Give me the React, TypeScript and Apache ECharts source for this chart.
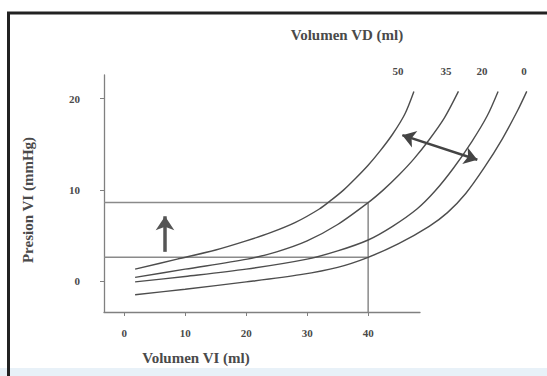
import React, { useEffect, useRef } from "react";
import * as echarts from "echarts";

// Volumen VI (ml) vs Presion VI (mmHg), one curve per Volumen VD (ml)
const vdLabels = ["50", "35", "20", "0"];
const curve50: number[][] = [
  [1.8, 1.3], [8.7, 2.4], [15, 3.4], [20, 4.4], [24, 5.3], [28, 6.4],
  [32, 7.9], [34, 8.9], [36, 10.0], [38, 11.3], [40, 12.7], [42, 14.3],
  [44, 16.1], [46, 18.3], [47.5, 20.8],
];
const curve35: number[][] = [
  [1.8, 0.4], [10, 1.3], [20.2, 2.4], [25, 3.2], [30, 4.4], [35, 6.2],
  [40, 8.6], [42.5, 10.0], [45, 11.6], [47.5, 13.4], [50, 15.5], [52.5, 17.9], [54.8, 20.8],
];
const curve20: number[][] = [
  [1.8, -0.1], [10, 0.5], [20, 1.3], [30, 2.4], [35, 3.3], [40, 4.5],
  [44, 6.0], [48, 7.9], [51, 9.9], [54, 12.4], [57, 15.3], [59.5, 18.1], [61.3, 20.8],
];
const curve0: number[][] = [
  [1.8, -1.5], [10, -0.9], [20, -0.1], [28.9, 0.7], [35, 1.5], [40, 2.6],
  [45, 4.1], [50, 6.0], [53, 7.5], [56, 9.6], [59, 12.4], [62, 15.6], [64.5, 18.7], [66, 20.8],
];
const curves = [curve50, curve35, curve20, curve0];

const xTicks = [0, 10, 20, 30, 40];
const yTicks = [0, 10, 20];
const xMin = -3.3;
const xMax = 48.5;
const xMaxWide = 68; // hidden axis, same scale, so curves can run past the drawn axis
const yMin = -3.4;
const yMax = 22.6;

// reference box: upper pressure, lower pressure, volume
const boxUpper = 8.6;
const boxLower = 2.6;
const boxVolume = 40;

const upArrow: number[][] = [[6.7, 3.2], [6.7, 7.1]];
const doubleArrow: number[][] = [[45.6, 16.0], [57.9, 13.3]];

const FONT = "'Liberation Serif', 'DejaVu Serif', serif";
const TXT = "#4a4a4a";

const W = 547;
const GRID_LEFT = 104;
const GRID_WIDTH = 316;

export default function App() {
  const ref = useRef<HTMLDivElement>(null);
  useEffect(() => {
    if (!ref.current) return;
    const chart = echarts.init(ref.current, undefined, { renderer: "svg" });
    const pxPerUnit = GRID_WIDTH / (xMax - xMin);
    const wideWidth = (xMaxWide - xMin) * pxPerUnit;
    const wideRight = W - GRID_LEFT - wideWidth;

    const curveSeries = curves.map((c, i) => ({
      type: "line",
      name: vdLabels[i],
      data: c,
      xAxisIndex: 1,
      yAxisIndex: 1,
      smooth: 0.3,
      showSymbol: false,
      clip: false,
      lineStyle: { color: "#4d4d4d", width: 1.4 },
      z: 3,
    }));
    const hiddenAxis = {
      show: false,
      splitLine: { show: false },
    };
    chart.setOption({
      animation: false,
      backgroundColor: "#ffffff",
      grid: [
        { left: GRID_LEFT, right: W - GRID_LEFT - GRID_WIDTH, top: 75, bottom: 64 },
        { left: GRID_LEFT, right: wideRight, top: 75, bottom: 64 },
      ],
      xAxis: [
        {
          type: "value",
          gridIndex: 0,
          min: xMin,
          max: xMax,
          splitLine: { show: false },
          axisLine: { show: true, onZero: false, lineStyle: { color: "#808080", width: 1.3 } },
          axisTick: { show: true, length: 4, customValues: xTicks, lineStyle: { color: "#808080" } },
          axisLabel: {
            customValues: xTicks,
            margin: 15,
            color: TXT,
            fontFamily: FONT,
            fontWeight: "bold",
            fontSize: 11,
          },
        },
        { type: "value", gridIndex: 1, min: xMin, max: xMaxWide, ...hiddenAxis },
      ],
      yAxis: [
        {
          type: "value",
          gridIndex: 0,
          min: yMin,
          max: yMax,
          splitLine: { show: false },
          axisLine: { show: true, onZero: false, lineStyle: { color: "#808080", width: 1.3 } },
          axisTick: { show: true, length: 4, customValues: yTicks, lineStyle: { color: "#808080" } },
          axisLabel: {
            customValues: yTicks,
            margin: 24,
            color: TXT,
            fontFamily: FONT,
            fontWeight: "bold",
            fontSize: 11,
          },
        },
        { type: "value", gridIndex: 1, min: yMin, max: yMax, ...hiddenAxis },
      ],
      series: [
        ...curveSeries,
        {
          type: "line",
          data: [[xMin, boxUpper], [boxVolume, boxUpper], [boxVolume, yMin]],
          showSymbol: false,
          lineStyle: { color: "#8a8a8a", width: 1.5 },
          z: 2,
        },
        {
          type: "line",
          data: [[xMin, boxLower], [boxVolume, boxLower]],
          showSymbol: false,
          lineStyle: { color: "#8a8a8a", width: 1.5 },
          z: 2,
        },
        {
          type: "lines",
          coordinateSystem: "cartesian2d",
          xAxisIndex: 1,
          yAxisIndex: 1,
          clip: false,
          symbol: ["none", "arrow"],
          symbolSize: 14,
          lineStyle: { color: "#555555", width: 3.5, opacity: 1, curveness: 0 },
          data: [{ coords: upArrow }],
          z: 4,
        },
        {
          type: "lines",
          coordinateSystem: "cartesian2d",
          xAxisIndex: 1,
          yAxisIndex: 1,
          clip: false,
          symbol: ["arrow", "arrow"],
          symbolSize: 13,
          lineStyle: { color: "#444444", width: 2.5, opacity: 1, curveness: 0 },
          data: [{ coords: doubleArrow }],
          z: 4,
        },
      ],
      graphic: [
        { type: "rect", shape: { x: 0, y: 368, width: 547, height: 8 }, style: { fill: "#e8f1f8" }, silent: true },
        { type: "line", shape: { x1: 7, y1: 13, x2: 547, y2: 13 }, style: { stroke: "#222222", lineWidth: 3 } },
        { type: "line", shape: { x1: 8.5, y1: 12, x2: 8.5, y2: 376 }, style: { stroke: "#222222", lineWidth: 3 } },
        {
          type: "text", x: 347, y: 35,
          style: { text: "Volumen VD (ml)", fill: TXT, font: `bold 15px ${FONT}`, align: "center", verticalAlign: "middle" },
        },
        {
          type: "text", x: 196, y: 358,
          style: { text: "Volumen VI (ml)", fill: TXT, font: `bold 15px ${FONT}`, align: "center", verticalAlign: "middle" },
        },
        {
          type: "text", x: 28, y: 200, rotation: Math.PI / 2,
          style: { text: "Presion VI (mmHg)", fill: TXT, font: `bold 15px ${FONT}`, align: "center", verticalAlign: "middle" },
        },
        ...vdLabels.map((t, i) => ({
          type: "text",
          x: [398, 446, 482, 524][i],
          y: 71,
          style: { text: t, fill: TXT, font: `bold 11px ${FONT}`, align: "center", verticalAlign: "middle" },
        })),
      ],
    });
    return () => chart.dispose();
  }, []);
  return (
    <div
      ref={ref}
      style={{ position: "fixed", left: 0, top: 0, width: 547, height: 376, background: "#fff" }}
    />
  );
}
